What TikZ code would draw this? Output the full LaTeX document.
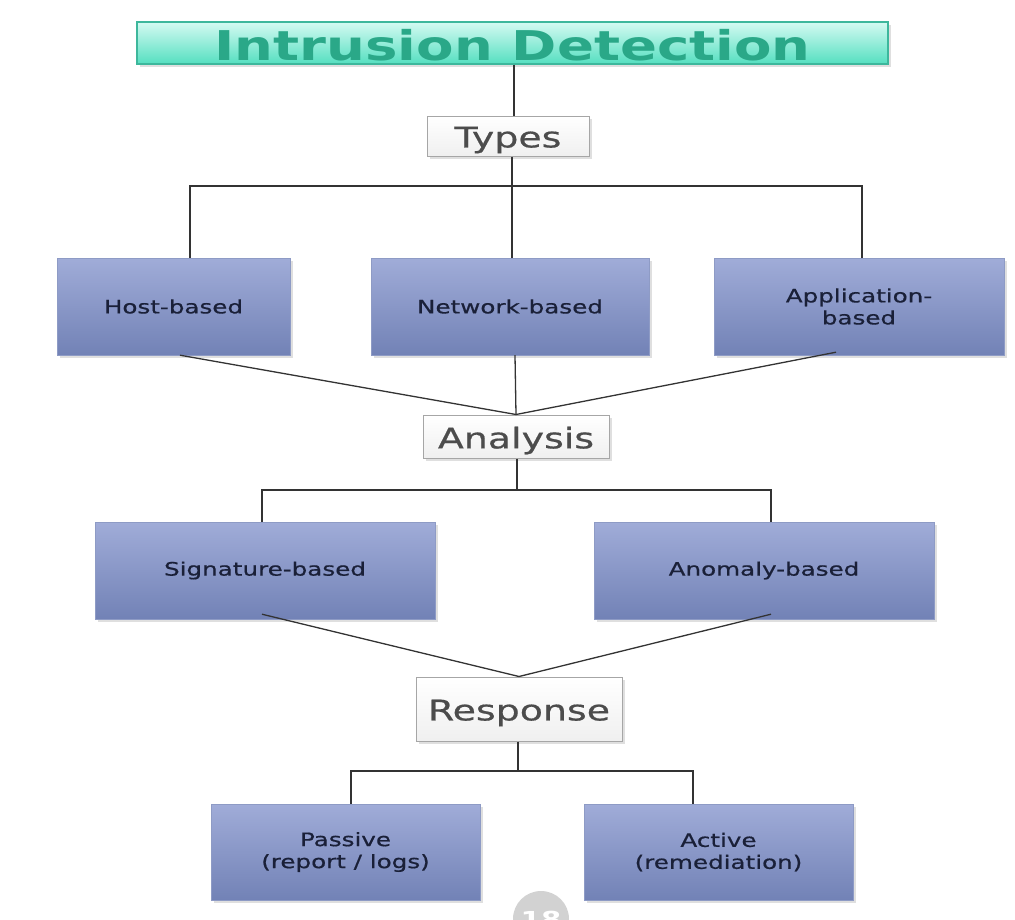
\documentclass[tikz,border=0pt]{standalone}
\usepackage{fontspec}
\setmainfont[FakeStretch=1.33]{DejaVu Sans}
\newfontfamily\medfont[FakeStretch=1.33,FakeBold=0.6]{DejaVu Sans}
\usetikzlibrary{shadows}
\definecolor{teal1}{HTML}{D4FAF2}
\definecolor{teal2}{HTML}{55DFC0}
\definecolor{tealtxt}{HTML}{2AA888}
\definecolor{tealbd}{HTML}{3DB79C}
\definecolor{blue1}{HTML}{A0ACD8}
\definecolor{blue2}{HTML}{7282B6}
\definecolor{bluetxt}{HTML}{1A2038}
\definecolor{linec}{HTML}{333333}
\newcommand\dn[2][4pt]{\raisebox{-#1}[\height][\depth]{#2}}
\tikzset{
  base/.style={inner sep=0pt, align=center, drop shadow={opacity=0.25, shadow xshift=3pt, shadow yshift=-3pt}},
  titlebox/.style={base, draw=tealbd, line width=1.5pt, top color=teal1, bottom color=teal2, text=tealtxt,
    font=\bfseries\fontsize{41}{45}\selectfont, minimum width=751pt, minimum height=42pt},
  graybox/.style={base, draw=gray!70, line width=1pt, top color=white, bottom color=gray!12, text=black!70,
    font=\medfont\fontsize{28.5}{32}\selectfont},
  bluebox/.style={base, draw=blue2!80, line width=0.4pt, top color=blue1, bottom color=blue2, text=bluetxt,
    font=\medfont\fontsize{18.5}{22}\selectfont, minimum height=97pt},
  conn/.style={draw=linec, line width=1.3pt}
}
\begin{document}
\begin{tikzpicture}[x=1pt,y=-1pt]
\useasboundingbox (0,0) rectangle (1015,919);
\clip (0,0) rectangle (1015,919);
\node[titlebox] (title) at (512.5,43) {\dn[2pt]{Intrusion Detection}};
\node[graybox, minimum width=162pt, minimum height=40pt] (types) at (508,136) {\dn{Types}};
\node[bluebox, minimum width=233pt] (host) at (173.5,306.5) {Host-based};
\node[bluebox, minimum width=278pt] (net) at (510,306.5) {Network-based};
\node[bluebox, minimum width=290pt] (app) at (859,306.5) {Application-\\based};
\node[graybox, minimum width=186pt, minimum height=43pt] (analysis) at (516,436.5) {\dn{Analysis}};
\node[bluebox, minimum width=340pt] (sig) at (265,570.5) {Signature-based};
\node[bluebox, minimum width=340pt] (anom) at (764,570.5) {Anomaly-based};
\node[graybox, minimum width=206pt, minimum height=64pt] (resp) at (519,709) {\dn{Response}};
\node[bluebox, minimum width=269pt, minimum height=96pt] (pass) at (345.5,852) {Passive\\(report / logs)};
\node[bluebox, minimum width=269pt, minimum height=96pt] (act) at (718.5,852) {Active\\(remediation)};
% connectors
\coordinate (bar1) at (512,186);
\coordinate (bar2) at (517,490);
\coordinate (bar3) at (518,771);
\draw[conn] ([xshift=1.5pt]title.south) -- ([xshift=6pt]types.north);
\draw[conn] ([xshift=4pt]types.south) -- ([xshift=2pt]net.north);
\draw[conn] ([xshift=16.5pt]host.north) |- (bar1) -| ([xshift=3pt]app.north);
\draw[conn] ([xshift=6.5pt]host.south) -- (analysis.north);
\draw[conn] ([xshift=5pt]net.south) -- (analysis.north);
\draw[conn] ([xshift=-23pt,yshift=3pt]app.south) -- (analysis.north);
\draw[conn] ([xshift=1pt]analysis.south) -- (bar2);
\draw[conn] ([xshift=-3pt]sig.north) |- (bar2) -| ([xshift=7pt]anom.north);
\draw[conn] ([xshift=-3pt,yshift=5pt]sig.south) -- (resp.north);
\draw[conn] ([xshift=7pt,yshift=5pt]anom.south) -- (resp.north);
\draw[conn] ([xshift=-1pt]resp.south) -- (bar3);
\draw[conn] ([xshift=5.5pt]pass.north) |- (bar3) -| ([xshift=-25.5pt]act.north);
% slide number
\node[circle, fill=gray!35, minimum size=56pt, inner sep=0pt, text=white,
  font=\bfseries\fontsize{22}{24}\selectfont] (pagenum) at (541,919) {18};
\end{tikzpicture}
\end{document}
